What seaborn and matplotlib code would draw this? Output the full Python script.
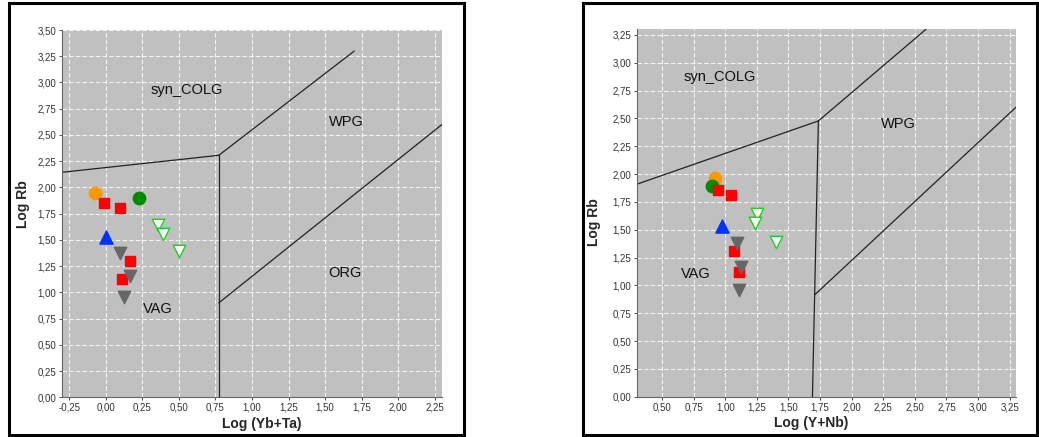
import matplotlib
matplotlib.use("Agg")
import matplotlib.pyplot as plt
import seaborn as sns
import pandas as pd
from matplotlib.patches import Rectangle
from matplotlib.ticker import MultipleLocator, FuncFormatter

sns.set_theme(style="white")
plt.rcParams['font.family'] = ['Liberation Sans', 'DejaVu Sans']

# ---- data: left panel (Log(Yb+Ta) vs Log Rb) ----
groups = ["orange", "green", "red", "blue", "grey", "open"]
yb_ta = {
    "orange": [-0.076],
    "green": [0.224],
    "red": [-0.01, 0.098, 0.167, 0.112],
    "blue": [0.002],
    "grey": [0.098, 0.167, 0.126],
    "open": [0.357, 0.394, 0.501],
}
rb_left = {
    "orange": [1.95],
    "green": [1.896],
    "red": [1.854, 1.80, 1.30, 1.124],
    "blue": [1.53],
    "grey": [1.372, 1.159, 0.959],
    "open": [1.642, 1.556, 1.397],
}
# ---- data: right panel (Log(Y+Nb) vs Log Rb) ----
y_nb = {
    "orange": [0.918],
    "green": [0.894],
    "red": [0.946, 1.044, 1.07, 1.112],
    "blue": [0.975],
    "grey": [1.093, 1.125, 1.107],
    "open": [1.251, 1.238, 1.40],
}
rb_right = {
    "orange": [1.962],
    "green": [1.893],
    "red": [1.854, 1.81, 1.309, 1.123],
    "blue": [1.537],
    "grey": [1.384, 1.168, 0.959],
    "open": [1.639, 1.563, 1.393],
}

# discrimination boundaries (x lists, y lists)
left_bounds = [
    ([-0.30, 0.773], [2.144, 2.306]),
    ([0.773, 0.773], [0.0, 2.306]),
    ([0.773, 1.70], [2.306, 3.30]),
    ([0.773, 2.30], [0.90, 2.60]),
]
right_bounds = [
    ([0.30, 1.737], [1.908, 2.477]),
    ([1.69, 1.737], [0.0, 2.477]),
    ([1.737, 2.588], [2.477, 3.30]),
    ([1.707, 3.30], [0.914, 2.60]),
]
left_labels = [("syn_COLG", 0.556, 2.93), ("WPG", 1.648, 2.62),
               ("ORG", 1.637, 1.18), ("VAG", 0.355, 0.84)]
right_labels = [("syn_COLG", 0.96, 2.87), ("WPG", 2.367, 2.45),
                ("VAG", 0.768, 1.10)]

styles = {
    "orange": dict(marker="o", color="#FF9900", edgecolor="#FF9900", s=80),
    "green": dict(marker="o", color="#008A00", edgecolor="#008A00", s=80),
    "red": dict(marker="s", color="#FF0000", edgecolor="#FF0000", s=55),
    "blue": dict(marker="^", color="#0033FF", edgecolor="#0033FF", s=90),
    "grey": dict(marker="v", color="#666666", edgecolor="#666666", s=80),
    "open": dict(marker="v", color="white", edgecolor="#22CC22", s=80),
}


def make_df(xd, yd):
    rows = []
    for g in groups:
        for xv, yv in zip(xd[g], yd[g]):
            rows.append({"x": xv, "y": yv, "group": g})
    return pd.DataFrame(rows)


fig = plt.figure(figsize=(10.39, 4.37), dpi=100)
W, H = 1039, 437

# outer frames
for x0, x1 in [(9, 463.5), (583.3, 1036.7)]:
    fig.patches.append(Rectangle((x0 / W, (437 - 435) / H), (x1 - x0) / W, (435 - 3) / H,
                                 transform=fig.transFigure, fill=False,
                                 edgecolor="black", linewidth=2.2, zorder=0))

axL = fig.add_axes([62 / W, 1 - 397.3 / H, 380 / W, 367.3 / H])
axR = fig.add_axes([636.7 / W, 1 - 396.7 / H, 379.3 / W, 367.4 / H])

fmt = FuncFormatter(lambda v, p: f"{v:.2f}".replace(".", ","))


def setup(ax, df, bounds, labels, xlim, ylim, xlabel, xl_pos, yl_pos):
    ax.set_facecolor("#C0C0C0")
    for xs, ys in bounds:
        ax.plot(xs, ys, color="#222222", lw=0.9, zorder=2)
    for g in groups:
        sub = df[df.group == g]
        st = styles[g]
        sns.scatterplot(data=sub, x="x", y="y", ax=ax, marker=st["marker"],
                        color=st["color"], edgecolor=st["edgecolor"], s=st["s"],
                        linewidth=1.0, legend=False, zorder=3)
    for t, xv, yv in labels:
        ax.text(xv, yv, t, ha="center", va="center", fontsize=10.5,
                color="#111111", zorder=4)
    ax.set_xlim(*xlim)
    ax.set_ylim(*ylim)
    ax.xaxis.set_major_locator(MultipleLocator(0.25))
    ax.yaxis.set_major_locator(MultipleLocator(0.25))
    ax.xaxis.set_major_formatter(fmt)
    ax.yaxis.set_major_formatter(fmt)
    ax.grid(True, color="white", linestyle=(0, (4, 2)), linewidth=0.8, alpha=0.85)
    ax.set_axisbelow(True)
    for sp in ["top", "right"]:
        ax.spines[sp].set_visible(False)
    for sp in ["left", "bottom"]:
        ax.spines[sp].set_color("#666666")
        ax.spines[sp].set_linewidth(0.8)
    ax.tick_params(axis="both", which="major", labelsize=7, colors="#333333",
                   length=2.5, width=0.6, direction="out", left=True, bottom=True, pad=1.5)
    ax.set_xlabel(xlabel, fontsize=10, fontweight="bold")
    ax.set_ylabel("Log Rb", fontsize=10, fontweight="bold")
    ax.xaxis.set_label_coords(*xl_pos)
    ax.yaxis.set_label_coords(*yl_pos)


setup(axL, make_df(yb_ta, rb_left), left_bounds, left_labels,
      (-0.30, 2.30), (0.0, 3.50), "Log (Yb+Ta)", (0.525, -0.053), (-0.084, 0.526))
setup(axR, make_df(y_nb, rb_right), right_bounds, right_labels,
      (0.30, 3.30), (0.0, 3.30), "Log (Y+Nb)", (0.461, -0.053), (-0.094, 0.476))

fig.savefig("out.png", dpi=100)
